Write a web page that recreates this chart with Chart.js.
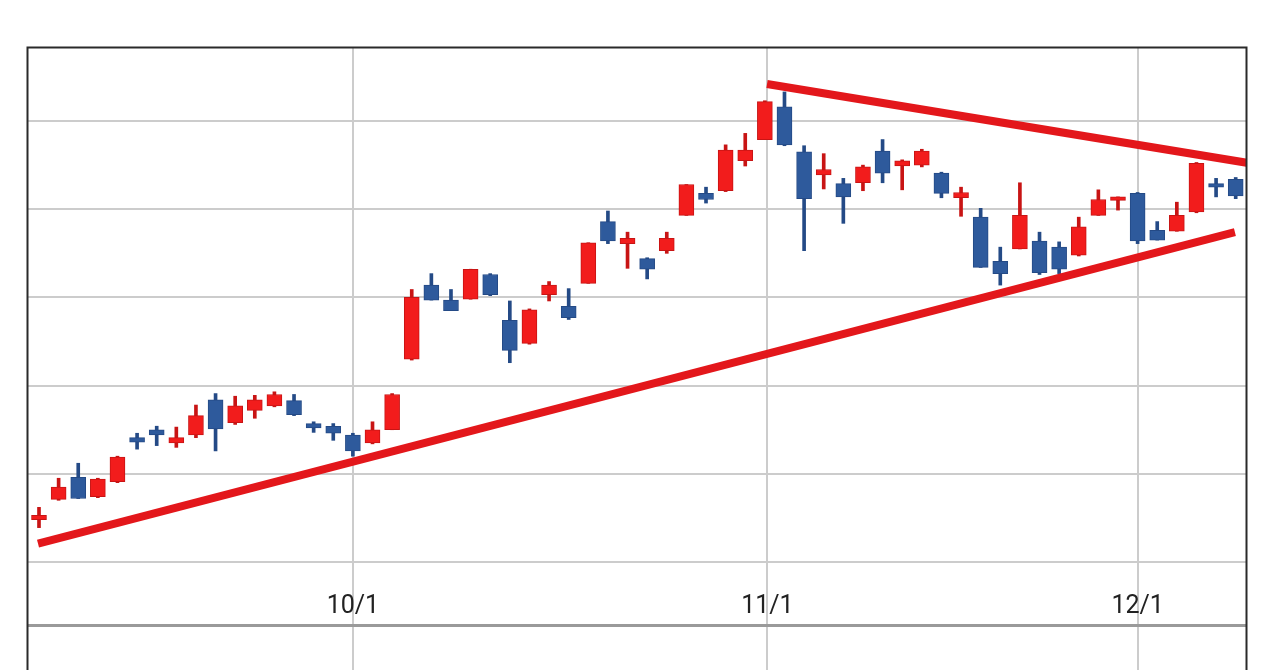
<!DOCTYPE html>
<html>
<head>
<meta charset="utf-8">
<script src="https://cdn.jsdelivr.net/npm/chart.js@4.4.1/dist/chart.umd.min.js"></script>
<style>
  html, body { margin: 0; padding: 0; background: #ffffff; }
  #wrap { width: 1280px; height: 670px; }
</style>
</head>
<body>
<div id="wrap"><canvas id="c" width="1280" height="670"></canvas></div>
<script>
// ---- data ----
const opens  = [1048,1071,1096,1074,1091,1141,1150,1135,1144,1184,1158,1172,1177,1183,1157,1154,1144,1135,1150,1230,1314,1297,1298,1326,1274,1248,1303,1290,1316,1386,1361,1344,1353,1393,1418,1421,1455,1479,1516,1465,1439,1429,1430,1466,1449,1450,1441,1413,1391,1341,1355,1364,1357,1348,1393,1410,1418,1376,1375,1397,1429,1434];
const highs  = [1062,1095,1112,1095,1120,1146,1154,1153,1178,1191,1188,1189,1193,1190,1159,1157,1146,1159,1191,1309,1327,1309,1332,1327,1296,1287,1318,1310,1362,1398,1374,1345,1374,1428,1425,1473,1486,1523,1533,1472,1463,1435,1450,1479,1456,1468,1442,1425,1401,1357,1430,1374,1363,1391,1422,1414,1419,1386,1408,1453,1435,1436];
const lows   = [1039,1070,1072,1073,1090,1128,1132,1130,1141,1126,1156,1163,1176,1166,1147,1138,1120,1134,1150,1229,1297,1285,1298,1302,1226,1247,1296,1275,1316,1361,1333,1321,1350,1393,1407,1420,1449,1479,1472,1353,1423,1384,1421,1430,1422,1448,1413,1392,1334,1314,1355,1326,1327,1347,1393,1399,1361,1365,1375,1396,1414,1412];
const closes = [1053,1085,1072,1094,1119,1136,1144,1141,1166,1151,1177,1184,1190,1167,1152,1146,1126,1150,1190,1300,1297,1285,1332,1303,1240,1286,1314,1277,1362,1364,1367,1332,1367,1428,1411,1467,1467,1522,1473,1412,1445,1414,1448,1441,1455,1466,1418,1419,1334,1327,1393,1328,1332,1380,1411,1414,1364,1365,1393,1452,1425,1415];

// date tick labels and their position (trading-day index)
const tickLabels = ['10/1', '11/1', '12/1'];
const tickIndex  = [16, 37.13, 56];

// horizontal price grid levels and the pane divider level
const gridLevels = [1000, 1100, 1200, 1300, 1400, 1500];
const paneDivider = 928.6;

// trend lines (index, price)
const supportX = [-0.05, 60.96];
const supportY = [1021, 1374];
const resistX  = [37.11, 61.56];
const resistY  = [1542, 1452.7];

// ---- styles ----
const RED = '#f21c1c', RED_EDGE = '#c81414';
const BLUE = '#2e5a9c', BLUE_EDGE = '#244a86';
const TREND = '#e3171b';

const isUp = opens.map((o, i) => closes[i] >= o);
const bodies = opens.map((o, i) => ({ x: i, y: [o, closes[i]] }));
const wicks  = opens.map((o, i) => ({ x: i, y: [lows[i], highs[i]] }));
const support = supportX.map((x, i) => ({ x, y: supportY[i] }));
const resist  = resistX.map((x, i) => ({ x, y: resistY[i] }));

const frameAndLabels = {
  id: 'frameAndLabels',
  afterDraw(chart) {
    const { ctx, chartArea, scales } = chart;
    ctx.save();
    // date labels inside the label band
    ctx.font = '25px Roboto, "Liberation Sans", sans-serif';
    ctx.fillStyle = '#222222';
    ctx.textAlign = 'center';
    ctx.textBaseline = 'middle';
    const yDiv = scales.y.getPixelForValue(paneDivider);
    tickLabels.forEach((t, i) => {
      ctx.fillText(t, scales.x.getPixelForValue(tickIndex[i]), yDiv - 18);
    });
    // frame
    ctx.strokeStyle = '#2a2a2a';
    ctx.lineWidth = 2;
    ctx.beginPath();
    ctx.moveTo(chartArea.left - 0.5, chartArea.bottom + 5);
    ctx.lineTo(chartArea.left - 0.5, chartArea.top - 0.5);
    ctx.lineTo(chartArea.right + 0.5, chartArea.top - 0.5);
    ctx.lineTo(chartArea.right + 0.5, chartArea.bottom + 5);
    ctx.stroke();
    ctx.restore();
  }
};

const PX0 = 39, PXSTEP = 19.618;

new Chart(document.getElementById('c'), {
  type: 'bar',
  data: {
    datasets: [
      {
        type: 'line', data: support, borderColor: TREND, borderWidth: 8,
        pointRadius: 0, fill: false, clip: 0, borderCapStyle: 'butt', order: 0
      },
      {
        type: 'line', data: resist, borderColor: TREND, borderWidth: 8,
        pointRadius: 0, fill: false, clip: 0, borderCapStyle: 'butt', order: 0
      },
      {
        type: 'bar', data: bodies, grouped: false, barThickness: 15,
        backgroundColor: isUp.map(u => u ? RED : BLUE),
        borderColor: isUp.map(u => u ? RED_EDGE : BLUE_EDGE),
        borderWidth: 1, borderSkipped: false, order: 1
      },
      {
        type: 'bar', data: wicks, grouped: false, barThickness: 3,
        backgroundColor: isUp.map(u => u ? RED_EDGE : BLUE_EDGE),
        borderWidth: 0, order: 2
      }
    ]
  },
  options: {
    responsive: false,
    animation: false,
    devicePixelRatio: 1,
    layout: { padding: { left: 28, top: 48, right: 34, bottom: 0 } },
    plugins: { legend: { display: false }, tooltip: { enabled: false } },
    scales: {
      x: {
        type: 'linear',
        min: (28 - PX0) / PXSTEP,
        max: (1246 - PX0) / PXSTEP,
        offset: false,
        bounds: 'data',
        grid: { color: '#cccccc', lineWidth: 2, drawTicks: false, offset: false },
        border: { display: false },
        ticks: { display: false },
        afterBuildTicks: (axis) => { axis.ticks = tickIndex.map(v => ({ value: v })); }
      },
      y: {
        type: 'linear',
        min: 877.6,
        max: 1582.8,
        bounds: 'data',
        grid: {
          drawTicks: false,
          color: (c) => (c.tick && c.tick.value === paneDivider) ? '#9a9a9a' : '#cccccc',
          lineWidth: (c) => (c.tick && c.tick.value === paneDivider) ? 3 : 2
        },
        border: { display: false },
        ticks: { display: false },
        afterBuildTicks: (axis) => {
          axis.ticks = [paneDivider].concat(gridLevels).map(v => ({ value: v }));
        }
      }
    }
  },
  plugins: [frameAndLabels]
});
</script>
</body>
</html>
